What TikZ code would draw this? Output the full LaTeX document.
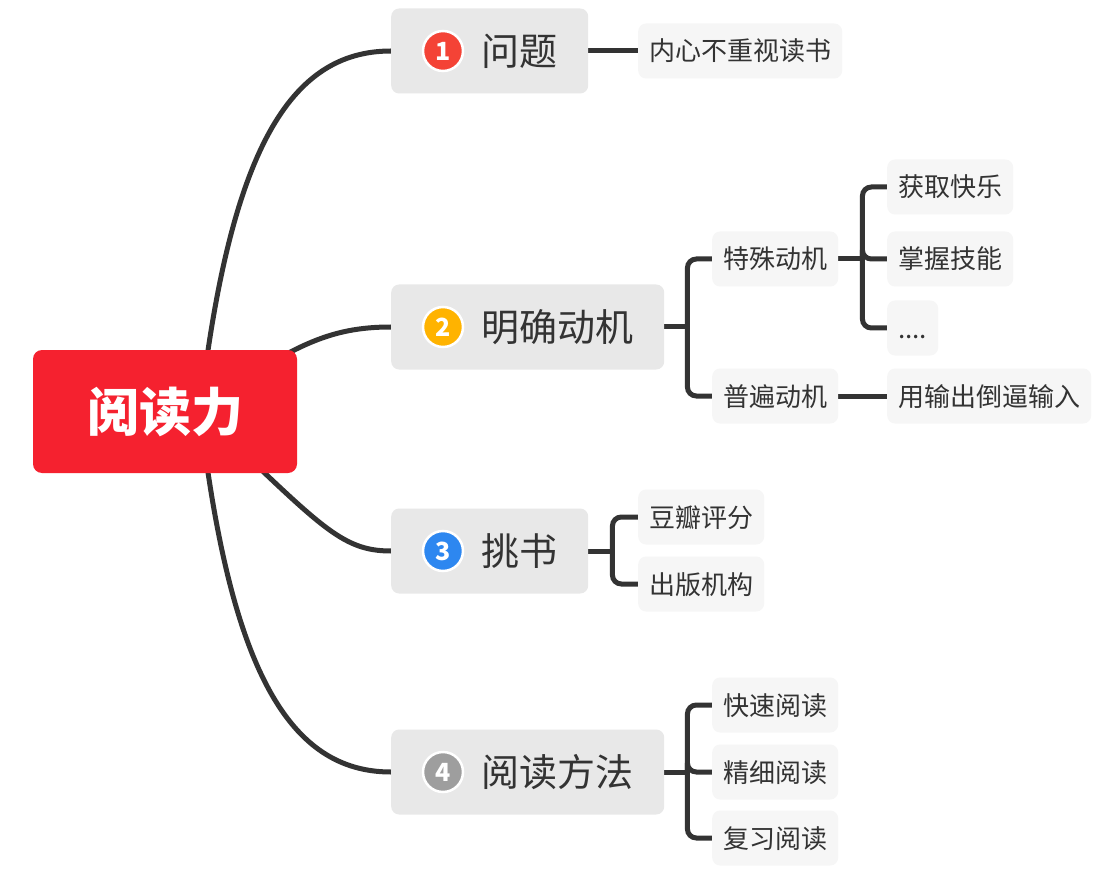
\documentclass[tikz,border=0pt]{standalone}
\usepackage{fontspec}
\setmainfont{Noto Sans CJK SC}
\usepackage{tikz}
\usetikzlibrary{positioning,calc,backgrounds}
\usepackage{xcolor}
\definecolor{cRoot}{RGB}{245,33,47}
\definecolor{cBranch}{RGB}{232,232,232}
\definecolor{cLeaf}{RGB}{246,246,246}
\definecolor{cLine}{RGB}{51,51,51}
\definecolor{cOne}{RGB}{244,67,54}
\definecolor{cTwo}{RGB}{255,179,0}
\definecolor{cThree}{RGB}{45,135,240}
\definecolor{cFour}{RGB}{158,158,158}

\begin{document}
\begin{tikzpicture}[x=1pt,y=-1pt,
    root/.style={rectangle,rounded corners=9pt,fill=cRoot,text=white,minimum width=264pt,minimum height=123pt,font=\bfseries\fontsize{52}{52}\selectfont},
    branch/.style={rectangle,rounded corners=8pt,fill=cBranch,text=cLine,anchor=west,inner xsep=0pt,minimum height=85pt,font=\fontsize{38}{38}\selectfont,
      execute at begin node=\hspace*{90pt},execute at end node=\hspace*{31pt}},
    leaf/.style={rectangle,rounded corners=8pt,fill=cLeaf,text=cLine,anchor=west,inner xsep=11pt,minimum height=55pt,text height=23pt,text depth=3pt,font=\fontsize{26}{26}\selectfont},
    numdot/.style={circle,draw=white,line width=2.5pt,minimum size=40pt,inner sep=0pt,text=white,font=\bfseries\fontsize{25}{25}\selectfont},
    link/.style={draw=cLine,line width=5pt},
    fork/.style={draw=cLine,line width=5pt,rounded corners=9pt}
  ]
  \useasboundingbox (0,0) rectangle (1105,874);
  % Root
  \node[root] (root) at (165,411.5) {阅读力};
  \coordinate (hub) at ($(root.center)+(35,0)$);
  % Branches
  \node[branch] (b1) at (391,51)  {问题};
  \node[branch] (b2) at (391,327) {明确动机};
  \node[branch] (b3) at (391,551) {挑书};
  \node[branch] (b4) at (391,772) {阅读方法};
  \foreach \i/\c in {1/cOne, 2/cTwo, 3/cThree, 4/cFour} {
    \node[numdot,fill=\c] (n\i) at ([xshift=52pt]b\i.west) {\i};
  }
  % Leaves
  \node[leaf] (l11) at (638,51) {内心不重视读书};
  \node[leaf] (l21) at (712,259) {特殊动机};
  \node[leaf] (l22) at (712,396) {普遍动机};
  \node[leaf] (l211) at (887,187) {获取快乐};
  \node[leaf] (l212) at (887,259) {掌握技能};
  \node[leaf] (l213) at (887,328) {....};
  \node[leaf] (l221) at (887,396) {用输出倒逼输入};
  \node[leaf] (l31) at (638,517) {豆瓣评分};
  \node[leaf] (l32) at (638,584) {出版机构};
  \node[leaf] (l41) at (712,705) {快速阅读};
  \node[leaf] (l42) at (712,772) {精细阅读};
  \node[leaf] (l43) at (712,838) {复习阅读};
  % Connectors
  \begin{pgfonlayer}{background}
    \fill[white] (0,0) rectangle (1105,874);
    \draw[link] (hub) .. controls (230,150) and (290,51) .. (b1.west);
    \draw[link] (hub) .. controls (290,345) and (330,327) .. (b2.west);
    \draw[link] (hub) .. controls (320,525) and (340,551) .. (b3.west);
    \draw[link] (hub) .. controls (230,672) and (290,772) .. (b4.west);
    \draw[link] (b1.east) -- (l11.west);
    \draw[link] (l22.east) -- (l221.west);
    \draw[link] (b2.east) -- ++(23,0) coordinate (j2);
    \foreach \c in {l21,l22} \draw[fork] (j2) |- (\c.west);
    \draw[link] (l21.east) -- ++(24,0) coordinate (j21);
    \foreach \c in {l211,l212,l213} \draw[fork] (j21) |- (\c.west);
    \draw[link] (b3.east) -- ++(24,0) coordinate (j3);
    \foreach \c in {l31,l32} \draw[fork] (j3) |- (\c.west);
    \draw[link] (b4.east) -- ++(23,0) coordinate (j4);
    \foreach \c in {l41,l42,l43} \draw[fork] (j4) |- (\c.west);
  \end{pgfonlayer}
\end{tikzpicture}
\end{document}
